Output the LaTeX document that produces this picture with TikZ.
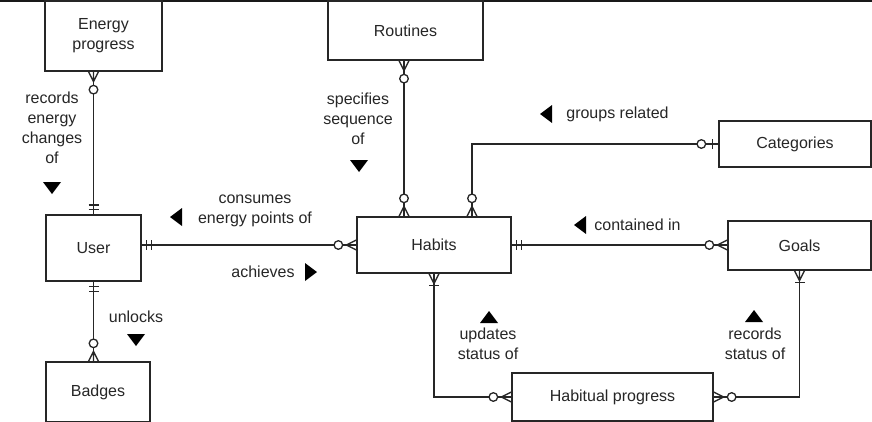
\documentclass[tikz,border=0pt]{standalone}
\usepackage{fontspec}
\setmainfont{Liberation Sans}
\begin{document}
\begin{tikzpicture}[x=1pt,y=-1pt,line width=1.3pt,
  ent/.style={draw=black!85,line width=1.3pt,fill=white,inner sep=0pt,align=center,
    font=\fontsize{16}{20}\selectfont,text=black!85},
  lbl/.style={inner sep=0pt,align=center,font=\fontsize{16}{20}\selectfont,text=black!85},
  conn/.style={draw=black!85,line width=1.3pt},
  zmany/.pic={\draw[conn] (0,-5)--(10,0)--(0,5) (0,0)--(10,0);
              \draw[conn,fill=white] (18,0) circle (4.3);},
  onemany/.pic={\draw[conn] (0,-5)--(10,0)--(0,5) (0,0)--(10,0);
              \draw[conn] (12,-5)--(12,5);},
  mandone/.pic={\draw[conn] (5,-5)--(5,5) (9.5,-5)--(9.5,5);},
  zone/.pic={\draw[conn] (6,-5)--(6,5);
              \draw[conn,fill=white] (17,0) circle (4.3);},
  tri/.pic={\fill[black] (-6,-9)--(6,0)--(-6,9)--cycle;}
]
\useasboundingbox (0,0) rectangle (872,421);
\draw[line width=2pt,black!90] (0,0.8) -- (872,0.8);

% entities
\node[ent,minimum width=117pt,minimum height=70pt] (ep) at (103.5,36) {Energy\\progress};
\node[ent,minimum width=155pt,minimum height=59pt] (routines) at (405.5,30.5) {Routines};
\node[ent,minimum width=95pt,minimum height=66pt] (user) at (93.5,248) {User};
\node[ent,minimum width=104pt,minimum height=60pt] (badges) at (98,392) {Badges};
\node[ent,minimum width=154pt,minimum height=56pt] (habits) at (434,245) {Habits};
\node[ent,minimum width=152pt,minimum height=46pt] (categories) at (795,144) {Categories};
\node[ent,minimum width=143pt,minimum height=49pt] (goals) at (799.5,245.5) {Goals};
\node[ent,minimum width=201pt,minimum height=48pt] (hp) at (612.5,397) {Habitual progress};

% connectors
\coordinate (epb) at (user.north |- ep.south);
\draw[conn] (user.north) -- (epb);
\coordinate (ue) at (user.east |- habits.west);
\draw[conn] (ue) -- (habits.west);
\coordinate (bt) at (user.south |- badges.north);
\draw[conn] (user.south) -- (bt);
\coordinate (rs) at ([xshift=-1.5pt]routines.south);
\coordinate (hrt) at (rs |- habits.north);
\draw[conn] (rs) -- (hrt);
\coordinate (hct) at ([xshift=38pt]habits.north);
\draw[conn] (hct) |- (categories.west);
\draw[conn] (habits.east) -- (goals.west |- habits.east);
\coordinate (gw) at (goals.west |- habits.east);
\draw[conn] (habits.south) |- (hp.west);
\draw[conn] (hp.east) -| (goals.south);

% markers
\pic[rotate=270] at (epb) {zmany};
\pic[rotate=90] at (user.north) {mandone};
\pic[rotate=0] at (ue) {mandone};
\pic[rotate=180] at (habits.west) {zmany};
\pic[rotate=270] at (user.south) {mandone};
\pic[rotate=90] at (bt) {zmany};
\pic[rotate=270] at (rs) {zmany};
\pic[rotate=90] at (hrt) {zmany};
\pic[rotate=90] at (hct) {zmany};
\pic[rotate=180] at (categories.west) {zone};
\pic[rotate=0] at (habits.east) {mandone};
\pic[rotate=180] at (gw) {zmany};
\pic[rotate=270] at (habits.south) {onemany};
\pic[rotate=180] at (hp.west) {zmany};
\pic[rotate=0] at (hp.east) {zmany};
\pic[rotate=270] at (goals.south) {onemany};

% labels
\node[lbl] (l1) at (52,128) {records\\energy\\changes\\of};
\pic[rotate=270] at (52,188) {tri};
\node[lbl] (l2) at (255,211) {consumes\\energy points of};
\pic[rotate=180] at (176,217) {tri};
\node[lbl] (l3) at (263,272) {achieves};
\pic[rotate=0] at (311,272) {tri};
\node[lbl] (l4) at (136,317) {unlocks};
\pic[rotate=270] at (136,340) {tri};
\node[lbl] (l5) at (358,118.5) {specifies\\sequence\\of};
\pic[rotate=270] at (359,166) {tri};
\node[lbl] (l6) at (617.5,114) {groups related};
\pic[rotate=180] at (546,114) {tri};
\node[lbl] (l7) at (637.5,225) {contained in};
\pic[rotate=180] at (580,225) {tri};
\node[lbl] (l8) at (488,343.5) {updates\\status of};
\pic[rotate=90] at (489,317) {tri};
\node[lbl] (l9) at (755,343.5) {records\\status of};
\pic[rotate=90] at (754,316) {tri};
\end{tikzpicture}
\end{document}
